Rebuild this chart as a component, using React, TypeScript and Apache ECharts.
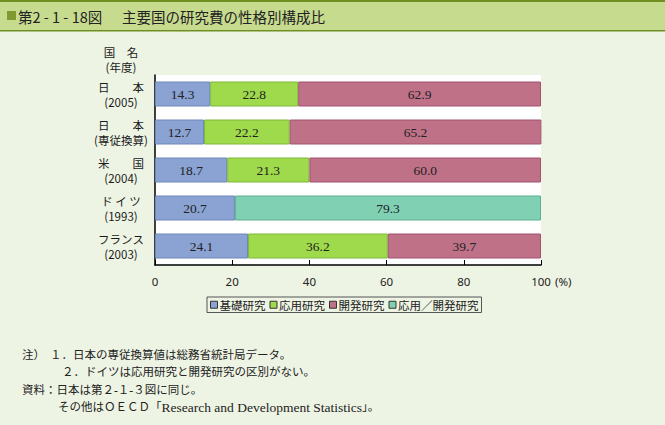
import React, { useEffect, useRef } from "react";
import * as echarts from "echarts";

const categories = ["日　　本\n(2005)", "日　　本\n(専従換算)", "米　　国\n(2004)", "ド イ ツ\n(1993)", "フランス\n(2003)"];
const seriesNames = ["基礎研究", "応用研究", "開発研究", "応用／開発研究"];
const basic = [14.3, 12.7, 18.7, 20.7, 24.1];
const applied = [22.8, 22.2, 21.3, null, 36.2];
const development = [62.9, 65.2, 60.0, null, 39.7];
const appliedDevelopment = [null, null, null, 79.3, null];
const xTicks = [0, 20, 40, 60, 80, 100];

const fills = ["#8aa3d2", "#9fd94c", "#bf7188", "#80d0b3"];
const borders = ["#6c88bb", "#80b83a", "#a25470", "#5fae92"];

const noteFont = "'Liberation Serif', 'Noto Sans CJK JP', serif";

export default function App() {
  const ref = useRef<HTMLDivElement>(null);
  useEffect(() => {
    document.body.style.margin = "0";
    const chart = echarts.init(ref.current!, null, { renderer: "svg" });
    const data = [basic, applied, development, appliedDevelopment];
    const series = data.map((d, i) => ({
      name: seriesNames[i],
      type: "bar",
      stack: "total",
      barWidth: 25,
      data: d,
      itemStyle: { color: fills[i], borderColor: borders[i], borderWidth: 1 },
      label: {
        show: true,
        position: "inside",
        formatter: (p: any) => Number(p.value).toFixed(1),
        fontFamily: "'Liberation Serif', serif",
        fontSize: 13.5,
        color: "#222",
      },
    }));
    const noteText = (text: string, x: number, y: number) => ({
      type: "text", x, y,
      style: { text, fontSize: 11.5, fill: "#222", verticalAlign: "middle", fontFamily: noteFont },
    });
    chart.setOption({
      animation: false,
      backgroundColor: "#eef4e4",
      textStyle: { fontFamily: "'Noto Sans CJK JP', sans-serif" },
      grid: {
        left: 155,
        top: 75,
        width: 386,
        height: 190,
        show: true,
        backgroundColor: "#ffffff",
        borderWidth: 0,
      },
      xAxis: {
        type: "value",
        min: 0,
        max: 100,
        interval: 20,
        axisLine: { show: true, lineStyle: { color: "#000", width: 1.5 } },
        axisTick: { show: true, inside: true, length: 5, lineStyle: { color: "#000" } },
        splitLine: { show: false },
        axisLabel: {
          margin: 10,
          fontSize: 11.5,
          color: "#222",
          fontFamily: "'Noto Sans', sans-serif",
          formatter: (v: number) => (xTicks.includes(v) ? String(v) : ""),
        },
      },
      yAxis: {
        type: "category",
        inverse: true,
        data: categories,
        axisLine: { show: true, lineStyle: { color: "#000", width: 1.5 } },
        axisTick: { show: false },
        axisLabel: {
          align: "center",
          margin: 34,
          fontSize: 11.5,
          lineHeight: 15,
          color: "#1a1a1a",
          fontFamily: "'Noto Sans CJK JP', sans-serif",
        },
      },
      legend: {
        left: 207,
        top: 297,
        data: seriesNames,
        icon: "rect",
        itemWidth: 7,
        itemHeight: 7,
        itemGap: 4,
        padding: [2, 3],
        borderColor: "#555",
        borderWidth: 1,
        textStyle: { fontSize: 11.5, color: "#222", fontFamily: "'Noto Sans CJK JP', sans-serif", padding: [0, 0, 0, -3] },
        itemStyle: { borderColor: "#333", borderWidth: 1 },
      },
      graphic: [
        { type: "rect", shape: { x: 0, y: 0, width: 665, height: 31 }, style: { fill: "#c6db8e" } },
        { type: "rect", shape: { x: 0, y: 0, width: 665, height: 2 }, style: { fill: "#6f8f22" } },
        { type: "rect", shape: { x: 0, y: 30, width: 665, height: 1.5 }, style: { fill: "#6f8f22" } },
        { type: "rect", shape: { x: 7, y: 11, width: 9, height: 9 }, style: { fill: "#7f9a2e" } },
        {
          type: "text", x: 18, y: 16,
          style: { text: "第2 - 1 - 18図", fontSize: 14.5, fill: "#222", verticalAlign: "middle", fontFamily: "'Noto Sans CJK JP', sans-serif" },
        },
        {
          type: "text", x: 122, y: 16,
          style: { text: "主要国の研究費の性格別構成比", fontSize: 14.5, fill: "#222", verticalAlign: "middle", fontFamily: "'Noto Sans CJK JP', sans-serif" },
        },
        {
          type: "text", x: 121, y: 52,
          style: { text: "国　名", fontSize: 11.5, fill: "#1a1a1a", align: "center", verticalAlign: "middle", fontFamily: "'Noto Sans CJK JP', sans-serif" },
        },
        {
          type: "text", x: 121, y: 67,
          style: { text: "(年度)", fontSize: 11.5, fill: "#1a1a1a", align: "center", verticalAlign: "middle", fontFamily: "'Noto Sans CJK JP', sans-serif" },
        },
        {
          type: "text", x: 555, y: 281,
          style: { text: "(%)", fontSize: 11.5, fill: "#222", align: "left", verticalAlign: "middle", fontFamily: "'Noto Sans', sans-serif" },
        },
        noteText("注）", 22, 355),
        noteText("１．日本の専従換算値は総務省統計局データ。", 50, 355),
        noteText("２．ドイツは応用研究と開発研究の区別がない。", 62, 372),
        noteText("資料：日本は第２-１-３図に同じ。", 22, 390),
        {
          type: "text", x: 58, y: 407,
          style: {
            text: "{c|その他はＯＥＣＤ「}{l|Research and Development Statistics}{c|」。}",
            verticalAlign: "middle",
            rich: {
              c: { fontSize: 11.5, fill: "#222", fontFamily: noteFont },
              l: { fontSize: 13.5, fill: "#222", fontFamily: "'Liberation Serif', serif" },
            },
          },
        },
      ],
      series,
    });
    return () => chart.dispose();
  }, []);
  return <div ref={ref} style={{ width: 665, height: 425 }} />;
}
